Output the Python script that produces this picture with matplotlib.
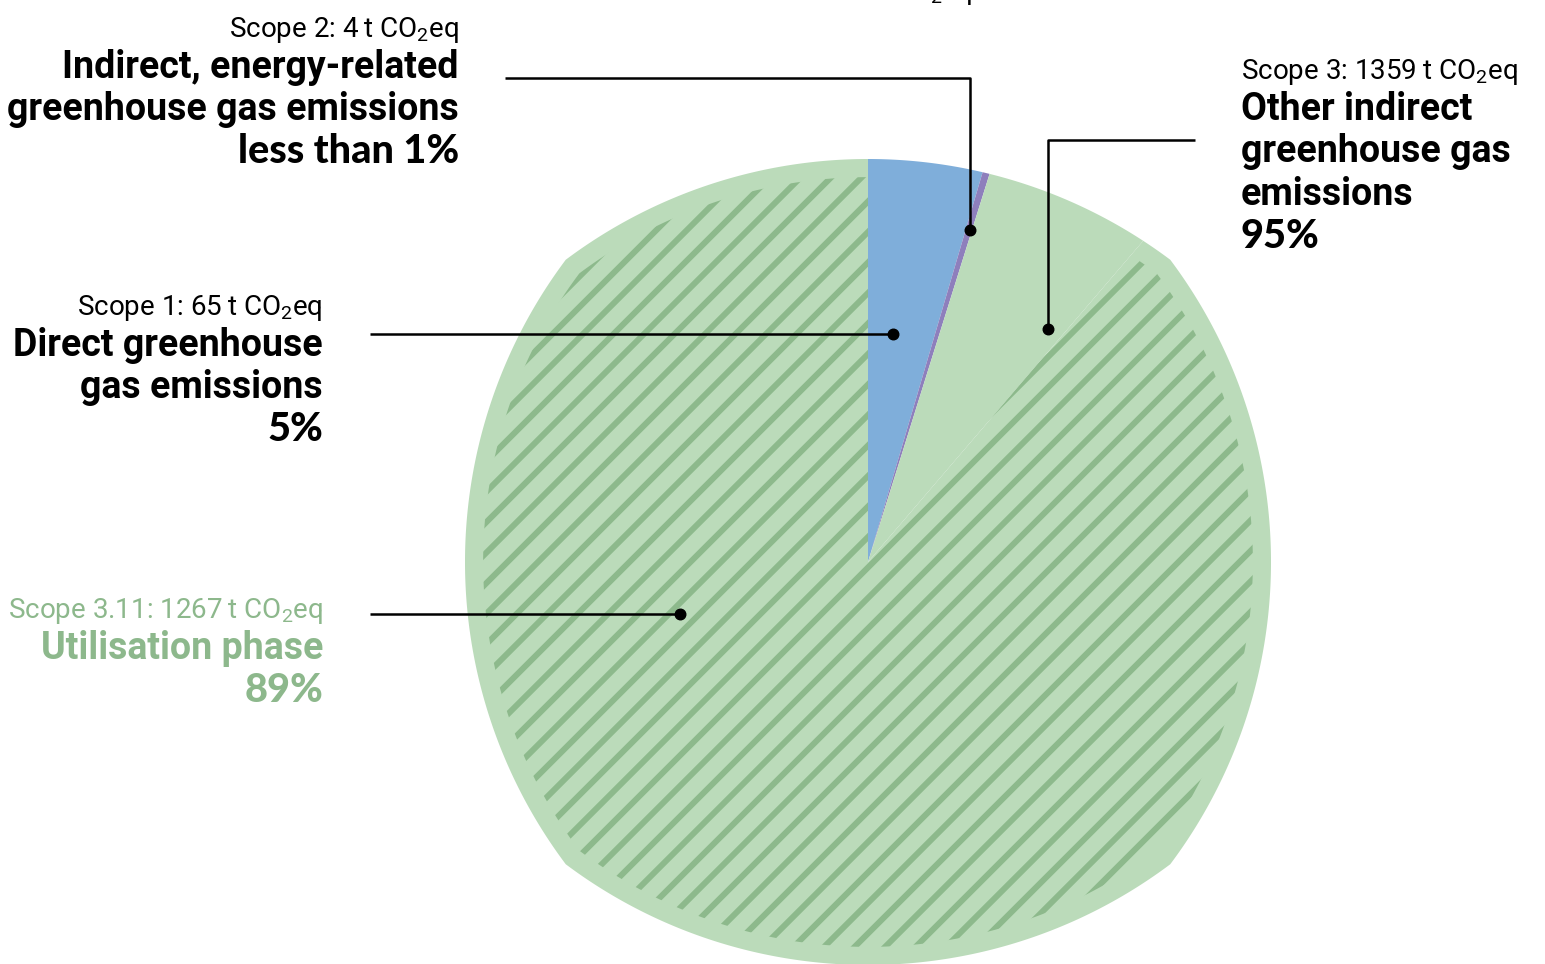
import numpy as np
import matplotlib
matplotlib.use("Agg")
import matplotlib.pyplot as plt
from matplotlib.patches import Polygon
from matplotlib.collections import LineCollection

plt.rcParams['font.family'] = ['Roboto', 'DejaVu Sans']

# Emissions by scope, t CO2eq (scope 3 split into utilisation phase and the rest)
slice_names = ["Scope 1", "Scope 2", "Scope 3 other", "Scope 3.11"]
emissions = [65, 4, 92, 1267]
scope3_total = 1359
total_emissions = 1428
slice_colors = ["#7FAEDA", "#8E7FBC", "#BBDBBA", "#BBDBBA"]
stripe_color = "#8DB98C"
label_green = "#8DB88C"

W, H = 1545, 964
CX, CY, R = 868, H - 562, 403          # pie centre and radius in pixels
CORNER = 0.75                           # diagonal bulge of the outline (fraction of R)


def outline_radius(theta_deg, r=R, c=CORNER):
    """Distance from the centre to the outline: four circular arcs meeting on the diagonals."""
    a = 1.0 - c
    rb = (a * a + c * c) / (2 * a)      # radius of each arc (unit scale)
    d = rb - 1.0                        # arc centre offset behind the centre
    t = np.radians(theta_deg)
    alpha = np.round(t / (np.pi / 2)) * (np.pi / 2)
    p = -d * np.cos(t - alpha)
    s = p + np.sqrt(p * p - d * d + rb * rb)
    return s * r


fig = plt.figure(figsize=(W / 100, H / 100), dpi=100)
ax = fig.add_axes([0, 0, 1, 1])

wedges, _ = ax.pie(emissions, colors=slice_colors, startangle=90, counterclock=False,
                   radius=R * 1.2, center=(CX, CY), frame=True,
                   wedgeprops=dict(linewidth=0, antialiased=True))

# clip every slice to the rounded outline
ang = np.linspace(0, 360, 1441)
rad = outline_radius(ang)
outline = Polygon(np.column_stack([CX + rad * np.cos(np.radians(ang)),
                                   CY + rad * np.sin(np.radians(ang))]),
                  closed=True, facecolor="none", edgecolor="none", transform=ax.transData)
ax.add_patch(outline)
for w in wedges:
    w.set_clip_on(True)
    w.set_clip_path(outline)

# diagonal stripes on the utilisation-phase slice, slightly inset from the rim
hw = wedges[3]
t1, t2 = hw.theta1, hw.theta2
ta = np.linspace(t1, t2, 1200)
ra = outline_radius(ta) * 0.955
hpts = np.column_stack([CX + ra * np.cos(np.radians(ta)), CY + ra * np.sin(np.radians(ta))])
hpts = np.vstack([[CX, CY], hpts])
hatch_clip = Polygon(hpts, closed=True, facecolor="none", edgecolor="none",
                     transform=ax.transData)
ax.add_patch(hatch_clip)
step = 30.5
offsets = np.arange(-1600, 1600, step)
segs = [[(-100, -100 + b), (1700, 1700 + b)] for b in offsets]
lc = LineCollection(segs, colors=stripe_color, linewidths=4.3, capstyle="butt")
lc.set_clip_path(hatch_clip)
ax.add_collection(lc)

# leader lines with end dots (pixel coordinates from the top-left)
leaders = [
    [(505, 78), (970, 78), (970, 230)],
    [(370, 334), (893, 334)],
    [(1195, 140), (1048, 140), (1048, 329)],
    [(370, 614), (680, 614)],
]
for pts in leaders:
    xs = [p[0] for p in pts]
    ys = [H - p[1] for p in pts]
    ax.plot(xs, ys, color="black", lw=1.8, solid_capstyle="butt", zorder=5)
    ax.plot(xs[-1], ys[-1], "o", color="black", ms=7.6, zorder=6)

CO2 = r"CO$_\mathregular{2}$eq"
pct = lambda v: v / total_emissions * 100

SUB = dict(fontsize=20, fontweight="normal")
BOLD = dict(fontsize=27, fontweight="bold")
PCT = dict(fontsize=28.5, fontweight="black", family=["Lato", "Roboto", "DejaVu Sans"])

blocks = [
    dict(x=459, ha="right", y0=37, color="black", lines=[
        (f"Scope 2: {emissions[1]}\u2009t {CO2}", SUB),
        ("Indirect, energy-related", BOLD),
        ("greenhouse gas emissions", BOLD),
        ("less than 1%" if pct(emissions[1]) < 1 else f"{pct(emissions[1]):.0f}%", PCT),
    ]),
    dict(x=323, ha="right", y0=315, color="black", lines=[
        (f"Scope 1: {emissions[0]}\u2009t {CO2}", SUB),
        ("Direct greenhouse", BOLD),
        ("gas emissions", BOLD),
        (f"{pct(emissions[0]):.0f}%", PCT),
    ]),
    dict(x=323, ha="right", y0=618, color=label_green, lines=[
        (f"Scope 3.11: {emissions[3]}\u2009t {CO2}", SUB),
        ("Utilisation phase", BOLD),
        (f"{pct(emissions[3]):.0f}%", PCT),
    ]),
    dict(x=1241, ha="left", y0=79, color="black", lines=[
        (f"Scope 3: {scope3_total}\u2009t {CO2}", SUB),
        ("Other indirect", BOLD),
        ("greenhouse gas", BOLD),
        ("emissions", BOLD),
        (f"{scope3_total / total_emissions * 100:.0f}%", PCT),
    ]),
]
for b in blocks:
    for i, (txt, style) in enumerate(b["lines"]):
        yb = b["y0"] + (41 if i else 0) + max(i - 1, 0) * 42.5
        ax.text(b["x"], H - yb, txt, ha=b["ha"], va="baseline", color=b["color"], **style)

# total line above the chart (mostly outside the canvas)
ax.text(972, H + 1, f"Total: {total_emissions}\u2009t {CO2}", ha="right", va="baseline",
        color="black", **SUB)

ax.set_xlim(0, W)
ax.set_ylim(0, H)
ax.set_aspect("equal")
ax.axis("off")
fig.savefig("out.png", dpi=100)
